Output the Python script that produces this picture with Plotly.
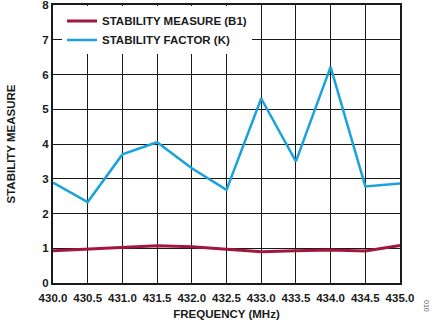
import plotly.graph_objects as go

freq = [430.0, 430.5, 431.0, 431.5, 432.0, 432.5, 433.0, 433.5, 434.0, 434.5, 435.0]
k_factor = [2.89, 2.33, 3.70, 4.05, 3.30, 2.68, 5.31, 3.50, 6.22, 2.78, 2.86]
b1_measure = [0.93, 0.97, 1.03, 1.07, 1.04, 0.98, 0.90, 0.93, 0.95, 0.92, 1.08]
x_ticks = [430.0, 430.5, 431.0, 431.5, 432.0, 432.5, 433.0, 433.5, 434.0, 434.5, 435.0]
y_ticks = [0, 1, 2, 3, 4, 5, 6, 7, 8]

font = "Liberation Sans, Arial, sans-serif"
fs = 11.5
ink = "#1a1a1a"

fig = go.Figure()
fig.add_trace(go.Scatter(x=freq, y=b1_measure, mode="lines", name="STABILITY MEASURE (B1)",
                         line=dict(color="#A3173F", width=3)))
fig.add_trace(go.Scatter(x=freq, y=k_factor, mode="lines", name="STABILITY FACTOR (K)",
                         line=dict(color="#1AA3DB", width=2.5)))

fig.update_layout(
    width=435, height=322,
    margin=dict(l=53, r=35, t=5, b=39),
    paper_bgcolor="white", plot_bgcolor="white",
    font=dict(family=font, size=fs, color=ink),
    showlegend=True,
    legend=dict(x=0.026, y=0.995, xanchor="left", yanchor="top",
                bgcolor="white", borderwidth=0,
                font=dict(family=font, size=fs, color=ink, weight="bold"),
                itemwidth=30, tracegroupgap=0),
    xaxis=dict(range=[430, 435], tickvals=x_ticks, ticktext=[f"{v:.1f}" for v in x_ticks],
               showgrid=True, gridcolor=ink, gridwidth=1.3,
               showline=True, linecolor=ink, linewidth=2, mirror=True,
               ticks="", zeroline=False, ticklabelstandoff=3, automargin=False,
               ticklabeloverflow="allow",
               tickfont=dict(family=font, size=fs, color=ink, weight="bold"),
               title=dict(text="FREQUENCY (MHz)", standoff=7,
                          font=dict(family=font, size=fs, color=ink, weight="bold"))),
    yaxis=dict(range=[0, 8], tickvals=y_ticks,
               showgrid=True, gridcolor=ink, gridwidth=1.3,
               showline=True, linecolor=ink, linewidth=2, mirror=True,
               ticks="", zeroline=False, automargin=False,
               ticklabeloverflow="allow",
               tickfont=dict(family=font, size=fs, color=ink, weight="bold"),
               title=dict(text="STABILITY MEASURE", standoff=24,
                          font=dict(family=font, size=fs, color=ink, weight="bold"))),
)

fig.add_annotation(text="010", xref="paper", yref="paper",
                   x=(427 - 53) / 347, y=(283 - 306) / 278,
                   xanchor="center", yanchor="middle",
                   showarrow=False, textangle=90,
                   font=dict(family=font, size=7, color="#666666"))

fig.write_html("out.html")
